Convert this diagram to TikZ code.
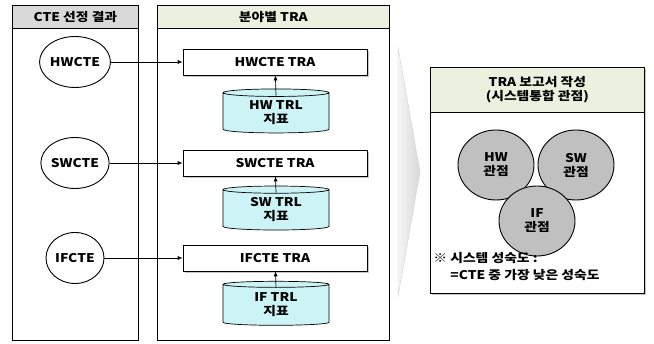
\documentclass[tikz,border=0pt]{standalone}
\usepackage{fontspec}
\setmainfont{Noto Sans CJK KR}[FakeStretch=1.15]
\usepackage{tikz}
\usetikzlibrary{positioning,shapes.geometric,arrows.meta,shadows}

\definecolor{hdrgray}{RGB}{217,217,217}
\definecolor{hdrgreen}{RGB}{235,241,222}
\definecolor{dbcyan}{RGB}{204,244,246}
\definecolor{viewgray}{RGB}{192,192,192}

\begin{document}
\begin{tikzpicture}[x=1pt,y=-1pt,line width=0.7pt,font=\bfseries\fontsize{12}{14}\selectfont,
  panel/.style={draw,rectangle,inner sep=0,anchor=north west},
  hdr/.style={panel,minimum height=23pt,align=center},
  cte/.style={draw,ellipse,fill=white,minimum width=58pt,minimum height=51pt,inner sep=0,line width=0.9pt},
  tra/.style={draw,rectangle,fill=white,minimum width=184pt,minimum height=26pt,inner sep=0,
    drop shadow={shadow xshift=2pt,shadow yshift=-2pt,opacity=0.45}},
  trl/.style={draw,cylinder,shape border rotate=90,aspect=0.14,cylinder uses custom fill,
    cylinder body fill=dbcyan,cylinder end fill=dbcyan,minimum width=106pt,minimum height=44pt,
    inner sep=0,align=center},
  view/.style={draw,ellipse,fill=viewgray,minimum width=76pt,minimum height=70pt,inner sep=0,
    align=center,line width=0.9pt},
  link/.style={-{Latex[length=5pt,width=4pt]}}]
\useasboundingbox (0,0) rectangle (654,344);
% left and middle panels
\node[panel,minimum width=126pt,minimum height=335pt] (ctepanel) at (12,5) {};
\node[hdr,fill=hdrgray,minimum width=126pt] (ctehdr) at (12,5) {CTE 선정 결과};
\node[panel,minimum width=232pt,minimum height=335pt] (trapanel) at (157,5) {};
\node[hdr,fill=hdrgreen,minimum width=232pt] (trahdr) at (157,5) {분야별 TRA};
\foreach \nm/\lbl/\y/\c in {hw/HW/62/113,sw/SW/163/210,if/IF/258/305} {
  \node[cte] (\nm cte) at (75,\y) {\lbl CTE};
  \node[tra] (\nm tra) at (275,\y) {\lbl CTE TRA};
  \node[trl] (\nm trl) at (276,\c) {\lbl{} TRL\\지표};
  \draw[link] (\nm cte) -- (\nm tra);
  \draw[link] ([yshift=-7pt]\nm trl.north) -- (\nm tra);
}
% big arrow
\shade[left color=gray!8,right color=gray!30,draw=gray!35,line width=0.4pt]
  (398,47) -- (420,172) -- (398,297) -- cycle;
% right panel
\node[panel,minimum width=214pt,minimum height=226pt,fill=white,
  drop shadow={shadow xshift=2pt,shadow yshift=-2pt,opacity=0.45}] (rptpanel) at (430,67) {};
\node[hdr,fill=hdrgreen,minimum width=214pt,minimum height=45pt] (rpthdr) at (430,67)
  {TRA 보고서 작성\\(시스템통합 관점)};
\node[view] (hwview) at (496,165) {HW\\관점};
\node[view] (swview) at (576,165) {SW\\관점};
\node[view] (ifview) at (537,221) {IF\\관점};
\node[anchor=west,inner sep=0] (note1) at (433,258) {※ 시스템 성숙도 :};
\node[anchor=west,inner sep=0] (note2) at (450,275) {=CTE 중 가장 낮은 성숙도};
\end{tikzpicture}
\end{document}
